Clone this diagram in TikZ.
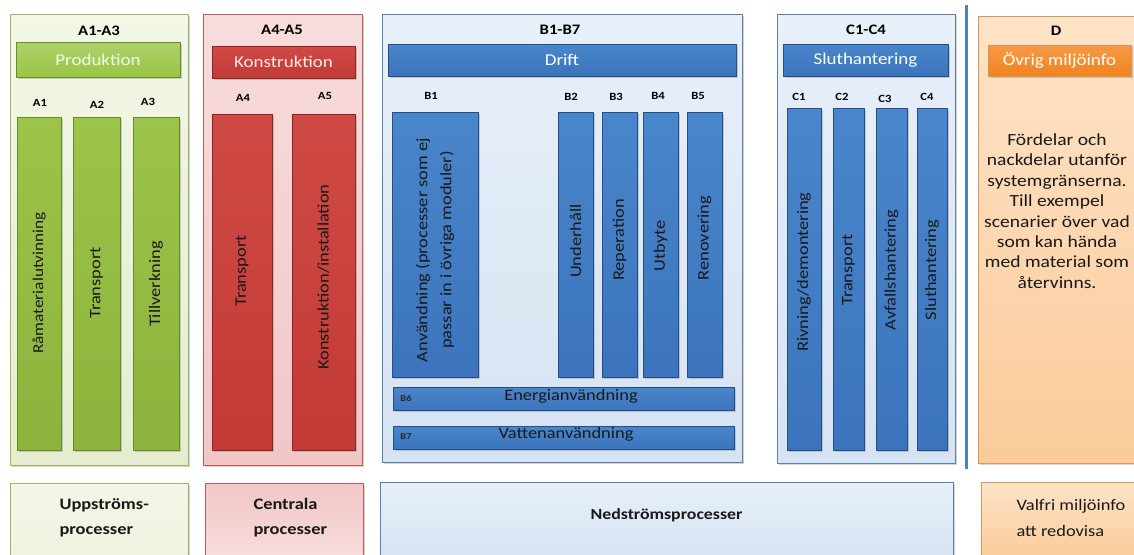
\documentclass[tikz,border=0pt]{standalone}
\usepackage{fontspec}
\setmainfont{Carlito}[FakeStretch=1.15]
\usetikzlibrary{shadows}
\definecolor{grnOt}{HTML}{F2F7E6}
\definecolor{grnOl}{HTML}{E4EDCF}
\definecolor{grnOb}{HTML}{9BB665}
\definecolor{grnBar}{HTML}{8CB43C}
\definecolor{grnBarL}{HTML}{9CC44A}
\definecolor{grnBarB}{HTML}{6A8B2C}
\definecolor{grnHead}{HTML}{9AC545}
\definecolor{redOt}{HTML}{F8DCDC}
\definecolor{redOl}{HTML}{F2C6C6}
\definecolor{redOb}{HTML}{C25A57}
\definecolor{redBar}{HTML}{C23A36}
\definecolor{redBarL}{HTML}{D04A45}
\definecolor{redBarB}{HTML}{8A2523}
\definecolor{bluOt}{HTML}{E8F0F9}
\definecolor{bluOl}{HTML}{D6E3F2}
\definecolor{bluOb}{HTML}{5B7FAF}
\definecolor{bluBar}{HTML}{3B74BC}
\definecolor{bluBarL}{HTML}{4A86CC}
\definecolor{bluBarB}{HTML}{234F88}
\definecolor{orgOt}{HTML}{FDE3C7}
\definecolor{orgOl}{HTML}{FBCB9A}
\definecolor{orgOb}{HTML}{D9965A}
\definecolor{orgHead}{HTML}{F0831E}
\definecolor{orgHeadL}{HTML}{F79A45}
\definecolor{lineB}{HTML}{4F81BD}
\newcommand\bx[7]{\node[#6,minimum width={(#4-#2)*1pt},minimum height={(#5-#3)*1pt}] (#1) at ({(#2+#4)/2},{(#3+#5)/2}) {#7};}
\tikzset{
  base/.style={rectangle,inner sep=0pt,outer sep=0pt,line width=1pt},
  shad/.style={drop shadow={shadow xshift=1.5pt,shadow yshift=-1.5pt,opacity=0.35}},
  grpA/.style={base,shad,draw=grnOb,top color=grnOt,bottom color=grnOl},
  grpR/.style={base,shad,draw=redOb,top color=redOt,bottom color=redOl},
  grpB/.style={base,shad,draw=bluOb,top color=bluOt,bottom color=bluOl},
  grpD/.style={base,shad,draw=orgOb,top color=orgOt,bottom color=orgOl},
  barA/.style={base,shad,draw=grnBarB,top color=grnBarL,bottom color=grnBar},
  barR/.style={base,shad,draw=redBarB,top color=redBarL,bottom color=redBar},
  barB/.style={base,shad,draw=bluBarB,top color=bluBarL,bottom color=bluBar},
  barD/.style={base,shad,draw=orgOb,top color=orgHeadL,bottom color=orgHead},
  head/.style={font=\fontsize{16.5}{18}\selectfont,text=white},
  glab/.style={font=\bfseries\fontsize{14.5}{16}\selectfont,text=black},
  lab/.style={font=\bfseries\fontsize{11}{13}\selectfont,text=black},
  slab/.style={font=\bfseries\fontsize{9}{10}\selectfont,text=black!85},
  vtext/.style={rotate=90,font=\fontsize{16}{24}\selectfont,align=center,text=black!90},
  htext/.style={font=\fontsize{16}{18}\selectfont,text=black!90},
  dtext/.style={font=\fontsize{17}{20.4}\selectfont,align=center,text=black!90},
  btext/.style={font=\bfseries\fontsize{16}{25}\selectfont,align=left,text=black!90},
  rtext/.style={font=\fontsize{16}{26}\selectfont,align=left,text=black!90},
}
\begin{document}
\begin{tikzpicture}[x=1pt,y=-1pt]
\useasboundingbox (0,0) rectangle (1134,554);
% ---------- A1-A3
\bx{gA}{10}{14}{188}{465}{grpA}{}
\node[glab] (tA) at (99,31) {A1-A3};
\bx{hA}{16}{42}{180}{77}{barA,draw=grnBarB,top color=grnHead!80!white,bottom color=grnHead}{}
\node[head,text=white!92!green] at (hA.center) {Produktion};
\node[lab] (lA1) at (40,103) {A1};
\node[lab] (lA2) at (97,105) {A2};
\node[lab] (lA3) at (148,102) {A3};
\bx{bA1}{17}{117}{61}{450}{barA}{}
\bx{bA2}{73}{117}{120}{450}{barA}{}
\bx{bA3}{133}{117}{179}{450}{barA}{}
\node[vtext,font=\fontsize{15}{18}\selectfont] at (bA1.center |- 0,283) {Råmaterialutvinning};
\node[vtext] at (bA2.center |- 0,283) {Transport};
\node[vtext] at (bA3.center |- 0,284) {Tillverkning};
% ---------- A4-A5
\bx{gR}{203}{14}{362}{465}{grpR}{}
\node[glab] (tR) at (282,30) {A4-A5};
\bx{hR}{212}{46}{355}{78}{barR}{}
\node[head,text=white!92!red] at (hR.center) {Konstruktion};
\node[lab] (lA4) at (243,98) {A4};
\node[lab] (lA5) at (325,96) {A5};
\bx{bA4}{212}{114}{272}{450}{barR}{}
\bx{bA5}{292}{114}{355}{450}{barR}{}
\node[vtext] at (bA4.center |- 0,271) {Transport};
\node[vtext] at (bA5.center |- 0,277) {Konstruktion/installation};
% ---------- B1-B7
\bx{gB}{382}{14}{742}{462}{grpB}{}
\node[glab] (tB) at (560,30) {B1-B7};
\bx{hB}{388}{44}{736}{76}{barB}{}
\node[head] at (hB.center) {Drift};
\node[lab] (lB1) at (431,96) {B1};
\node[lab] (lB2) at (571,97) {B2};
\node[lab] (lB3) at (616,97) {B3};
\node[lab] (lB4) at (658,96) {B4};
\node[lab] (lB5) at (698,96) {B5};
\bx{bB1}{392}{112}{478}{377}{barB}{}
\bx{bB2}{558}{112}{593}{377}{barB}{}
\bx{bB3}{602}{112}{637}{377}{barB}{}
\bx{bB4}{643}{112}{678}{377}{barB}{}
\bx{bB5}{687}{112}{722}{377}{barB}{}
\node[vtext] at (bB1.center |- 0,250) {Användning (processer som ej\\passar in i övriga moduler)};
\node[vtext] at (bB2.center |- 0,241) {Underhåll};
\node[vtext] at (bB3.center |- 0,240) {Reperation};
\node[vtext] at (bB4.center |- 0,246) {Utbyte};
\node[vtext] at (bB5.center |- 0,238) {Renovering};
\bx{bB6}{393}{387}{734}{410}{barB}{}
\bx{bB7}{393}{426}{734}{449}{barB}{}
\node[slab] at (406,398) {B6};
\node[slab] at (406,437) {B7};
\node[htext] at (571,396) {Energianvändning};
\node[htext] at (566,434) {Vattenanvändning};
% ---------- C1-C4
\bx{gC}{777}{14}{955}{463}{grpB}{}
\node[glab] (tC) at (866,30) {C1-C4};
\bx{hC}{783}{44}{948}{76}{barB}{}
\node[head] at (hC.center) {Sluthantering};
\node[lab] (lC1) at (799,97) {C1};
\node[lab] (lC2) at (842,97) {C2};
\node[lab] (lC3) at (885,99) {C3};
\node[lab] (lC4) at (927,97) {C4};
\bx{bC1}{787}{108}{821}{450}{barB}{}
\bx{bC2}{833}{108}{864}{450}{barB}{}
\bx{bC3}{876}{108}{907}{450}{barB}{}
\bx{bC4}{917}{108}{947}{450}{barB}{}
\node[vtext] at (bC1.center |- 0,272) {Rivning/demontering};
\node[vtext] at (bC2.center |- 0,270) {Transport};
\node[vtext] at (bC3.center |- 0,270) {Avfallshantering};
\node[vtext] at (bC4.center |- 0,270) {Sluthantering};
% ---------- divider
\coordinate (lt) at (966,5);
\coordinate (lb) at (966,469);
\draw[line width=3pt,color=lineB] (lt) -- (lb);
% ---------- D
\bx{gD}{978}{16}{1136}{463}{grpD}{}
\node[glab] (tD) at (1056,31) {D};
\bx{hD}{988}{45}{1131}{76}{barD}{}
\node[head] at (hD.center) {Övrig miljöinfo};
\node[dtext] at (1057,211) {Fördelar och\\nackdelar utanför\\systemgränserna.\\Till exempel\\scenarier över vad\\som kan hända\\med material som\\återvinns.};
% ---------- bottom row
\bx{uA}{10}{483}{188}{558}{base,shad,draw=grnOb,top color=grnOt,bottom color=grnOt!70!grnOl}{}
\bx{uR}{205}{483}{363}{558}{base,shad,draw=redOb,top color=redOl,bottom color=redOt}{}
\bx{uB}{380}{482}{953}{558}{base,shad,draw=bluOb,top color=bluOt,bottom color=bluOl}{}
\bx{uD}{981}{482}{1136}{558}{base,shad,draw=orgOb,top color=orgOt,bottom color=orgOl}{}
\node[btext,anchor=west] at (56,518) {Uppströms-\\processer};
\node[btext,anchor=west] at (250,518) {Centrala\\processer};
\node[btext,font=\bfseries\fontsize{15.5}{18}\selectfont] at (uB.center |- 0,515) {Nedströmsprocesser};
\node[rtext,anchor=west] at (1013,518) {Valfri miljöinfo\\att redovisa};
\end{tikzpicture}
\end{document}
